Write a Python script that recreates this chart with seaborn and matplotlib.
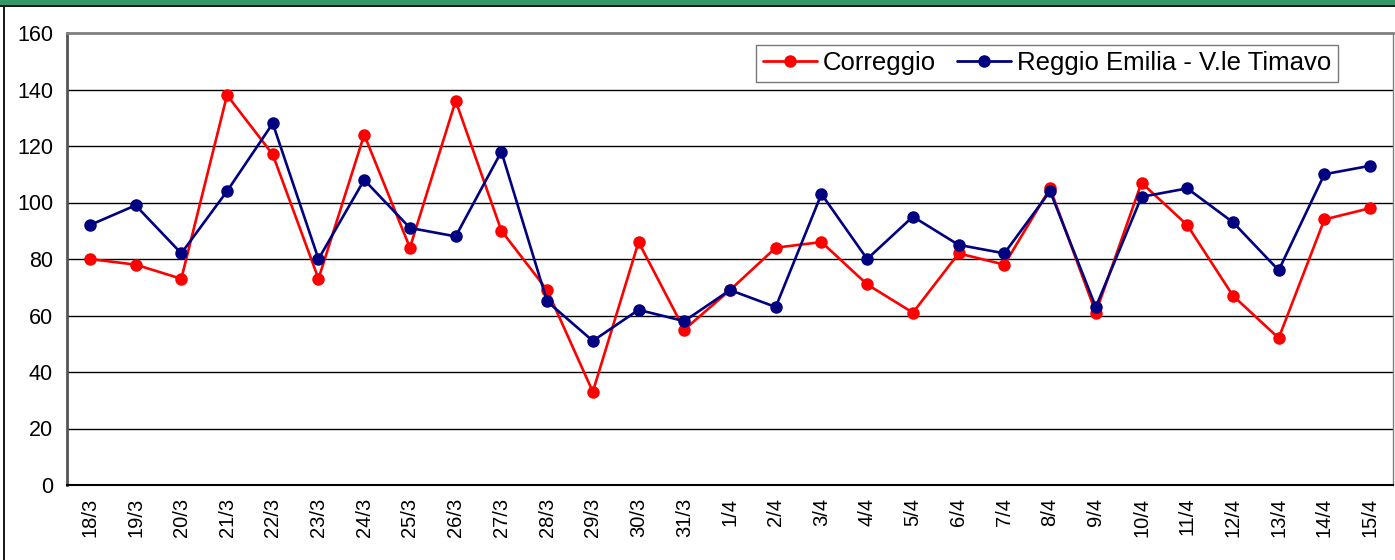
import pandas as pd
import seaborn as sns
import matplotlib.pyplot as plt
from matplotlib.patches import Rectangle
from matplotlib.lines import Line2D
import numpy as np

dates = ["18/3", "19/3", "20/3", "21/3", "22/3", "23/3", "24/3", "25/3", "26/3", "27/3",
         "28/3", "29/3", "30/3", "31/3", "1/4", "2/4", "3/4", "4/4", "5/4", "6/4",
         "7/4", "8/4", "9/4", "10/4", "11/4", "12/4", "13/4", "14/4", "15/4"]
correggio = [80, 78, 73, 138, 117, 73, 124, 84, 136, 90, 69, 33, 86, 55, 69, 84, 86, 71,
             61, 82, 78, 105, 61, 107, 92, 67, 52, 94, 98]
reggio = [92, 99, 82, 104, 128, 80, 108, 91, 88, 118, 65, 51, 62, 58, 69, 63, 103, 80,
          95, 85, 82, 104, 63, 102, 105, 93, 76, 110, 113]
series_names = ["Correggio", "Reggio Emilia - V.le Timavo"]
series_colors = ["#FF0000", "#000080"]

df = pd.DataFrame({
    "data": dates * 2,
    "valore": correggio + reggio,
    "stazione": [series_names[0]] * len(dates) + [series_names[1]] * len(dates),
})

sns.set_style("white")
plt.rcParams["font.family"] = ["Liberation Sans", "DejaVu Sans"]
plt.rcParams["text.color"] = "black"
plt.rcParams["xtick.color"] = "black"
plt.rcParams["ytick.color"] = "black"

fig = plt.figure(figsize=(13.95, 5.6), dpi=100)
ax = fig.add_axes([67 / 1395, 75 / 560, 1326 / 1395, 452 / 560])

sns.lineplot(
    data=df, x="data", y="valore", hue="stazione", palette=series_colors,
    marker="o", markersize=9, markeredgewidth=0, linewidth=1.9, ax=ax,
    legend=False, sort=False,
)

n = len(dates)
ax.set_xlim(-0.5, n - 0.5)
ax.set_ylim(0, 160)
ax.set_yticks(np.arange(0, 161, 20))
ax.tick_params(axis="y", labelsize=15.5, length=5, width=1, color="#000000", pad=5)
ax.set_xticks(np.arange(-0.5, n, 1.0))
ax.set_xticklabels([])
ax.set_xticks(np.arange(n), minor=True)
ax.set_xticklabels(dates, minor=True, rotation=90, fontsize=14.5)
ax.tick_params(axis="x", which="major", length=5, width=1, color="#000000")
ax.tick_params(axis="x", which="minor", length=0, pad=9)
ax.set_xlabel("")
ax.set_ylabel("")

for v in range(20, 160, 20):
    ax.axhline(v, color="#000000", linewidth=1, zorder=0)

ax.spines["top"].set_color("#808080")
ax.spines["top"].set_linewidth(2)
ax.spines["right"].set_color("#808080")
ax.spines["right"].set_linewidth(1)
ax.spines["left"].set_color("#555555")
ax.spines["left"].set_linewidth(2)
ax.spines["bottom"].set_color("#000000")
ax.spines["bottom"].set_linewidth(1.5)

handles = [Line2D([], [], color=c, marker="o", markersize=9, linewidth=2,
                  markeredgewidth=0) for c in series_colors]
leg = ax.legend(handles, series_names, loc="upper right", bbox_to_anchor=(0.9585, 0.974),
                ncol=2, fontsize=18.5, frameon=True, fancybox=False, edgecolor="#555555",
                handlelength=2.1, handletextpad=0.25, columnspacing=0.8,
                borderpad=0.25, borderaxespad=0)
leg.get_frame().set_linewidth(1)

# cornice del grafico
fig.patches.append(Rectangle((0, 1 - 4.5 / 560), 1, 4.5 / 560, transform=fig.transFigure,
                             facecolor="#339966", edgecolor="none"))
fig.patches.append(Rectangle((0, 1 - 6.5 / 560), 1, 2 / 560, transform=fig.transFigure,
                             facecolor="#1a1a1a", edgecolor="none"))
fig.patches.append(Rectangle((3 / 1395, 0), 1.5 / 1395, 1 - 6.5 / 560, transform=fig.transFigure,
                             facecolor="#1a1a1a", edgecolor="none"))

fig.savefig("out.png", dpi=100)
